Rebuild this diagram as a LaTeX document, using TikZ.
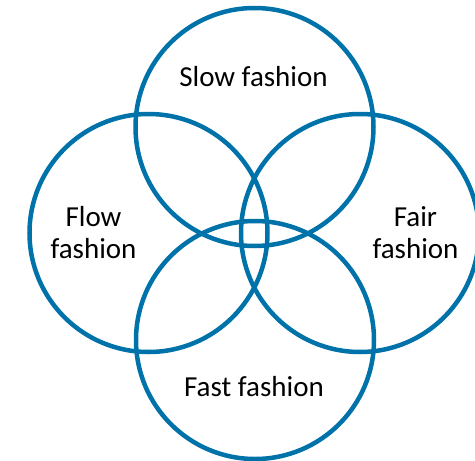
\documentclass[tikz,border=0pt]{standalone}
\usepackage{fontspec}
\setmainfont{Carlito}
\definecolor{ringblue}{RGB}{0,114,170}
\begin{document}
\begin{tikzpicture}[x=1pt,y=-1pt,
  ring/.style={draw=ringblue,line width=4.5pt,circle,minimum size=238pt,inner sep=0pt},
  lbl/.style={font=\fontsize{29}{32}\selectfont,align=center,text=black,inner sep=0pt}]
\useasboundingbox (0,0) rectangle (475,461);
\node[ring] (slow) at (254.5,127) {};
\node[ring] (flow) at (148.5,233) {};
\node[ring] (fair) at (360,233) {};
\node[ring] (fast) at (255,340) {};
\node[lbl] (tslow) at (253.5,77) {Slow fashion};
\node[lbl] (tflow) at (93.5,233) {Flow\\fashion};
\node[lbl] (tfair) at (415.5,233) {Fair\\fashion};
\node[lbl] (tfast) at (254,387) {Fast fashion};
\end{tikzpicture}
\end{document}
